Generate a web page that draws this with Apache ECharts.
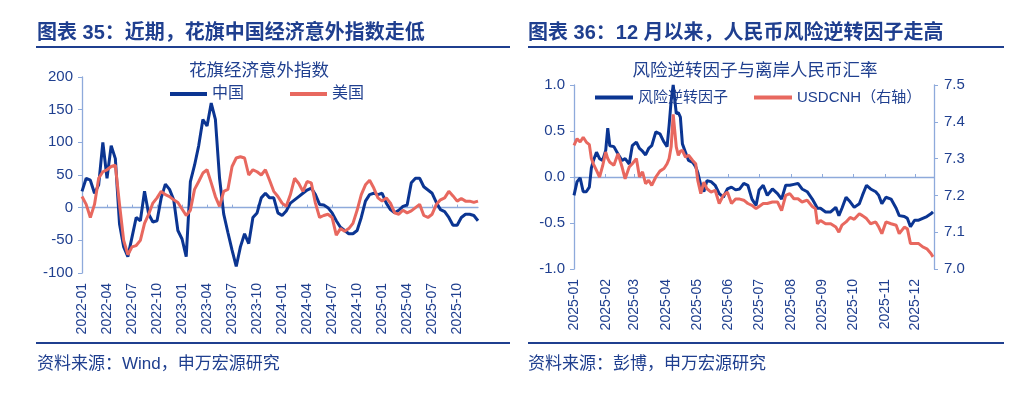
<!DOCTYPE html>
<html>
<head>
<meta charset="utf-8">
<script src="https://cdn.jsdelivr.net/npm/echarts@6/dist/echarts.min.js"></script>
<style>
html,body{margin:0;padding:0;background:#fff;}
#main{width:1024px;height:395px;}
</style>
</head>
<body>
<div id="main"></div>
<script>
// ---- Left chart: Citi Economic Surprise Index (semi-monthly readings) ----
const leftDates = [
'2022-01-01','2022-01-16','2022-02-01','2022-02-16','2022-03-01','2022-03-16','2022-04-01','2022-04-16','2022-05-01','2022-05-16','2022-06-01','2022-06-16',
'2022-07-01','2022-07-16','2022-08-01','2022-08-16','2022-09-01','2022-09-16','2022-10-01','2022-10-16','2022-11-01','2022-11-16','2022-12-01','2022-12-16',
'2023-01-01','2023-01-16','2023-02-01','2023-02-16','2023-03-01','2023-03-16','2023-04-01','2023-04-16','2023-05-01','2023-05-16','2023-06-01','2023-06-16',
'2023-07-01','2023-07-16','2023-08-01','2023-08-16','2023-09-01','2023-09-16','2023-10-01','2023-10-16','2023-11-01','2023-11-16','2023-12-01','2023-12-16',
'2024-01-01','2024-01-16','2024-02-01','2024-02-16','2024-03-01','2024-03-16','2024-04-01','2024-04-16','2024-05-01','2024-05-16','2024-06-01','2024-06-16',
'2024-07-01','2024-07-16','2024-08-01','2024-08-16','2024-09-01','2024-09-16','2024-10-01','2024-10-16','2024-11-01','2024-11-16','2024-12-01','2024-12-16',
'2025-01-01','2025-01-16','2025-02-01','2025-02-16','2025-03-01','2025-03-16','2025-04-01','2025-04-16','2025-05-01','2025-05-16','2025-06-01','2025-06-16',
'2025-07-01','2025-07-16','2025-08-01','2025-08-16','2025-09-01','2025-09-16','2025-10-01','2025-10-16','2025-11-01','2025-11-16','2025-12-01','2025-12-16'
];
const chinaValues = [
25,45,42,22,35,100,45,95,75,-25,
-60,-75,-45,-15,-20,25,-10,-22,-20,15,
36,28,12,-35,-48,-75,40,65,95,135,
125,160,135,45,-10,-38,-65,-90,-60,-40,
-55,-15,-8,15,22,15,15,-8,-12,-5,
7,12,17,22,27,30,20,5,4,0,
-8,-20,-30,-35,-40,-40,-35,-15,10,20,
22,20,22,7,-3,-8,-4,2,4,38,
45,45,32,27,22,8,-3,-6,-15,-27,
-27,-15,-10,-10,-12,-20
];
const usValues = [
17,5,-15,5,45,55,58,63,65,5,
-50,-72,-60,-58,-50,-24,-10,7,15,25,
20,17,12,8,-2,-12,-4,28,40,53,
58,38,17,2,25,28,63,76,78,76,
50,58,55,50,58,42,25,17,7,2,
20,45,37,25,40,38,7,-15,-12,-10,
-15,-42,-32,-36,-32,-24,-4,20,35,42,
30,15,10,15,7,-8,-10,-4,-8,-5,
0,5,-12,-15,-10,5,12,15,25,18,
10,14,10,10,8,10
];
const leftYTicks = {min: -100, max: 200, interval: 50};

// ---- Right chart: risk reversal factor & USDCNH (2025) ----
const rightDates = [
'2025-01-01','2025-01-04','2025-01-07','2025-01-10','2025-01-13','2025-01-16','2025-01-18','2025-01-20','2025-01-23','2025-01-26','2025-01-29',
'2025-02-01','2025-02-03','2025-02-05','2025-02-09','2025-02-13','2025-02-17','2025-02-20','2025-02-24','2025-02-27',
'2025-03-03','2025-03-06','2025-03-09','2025-03-12','2025-03-15','2025-03-18','2025-03-22','2025-03-26','2025-03-30',
'2025-04-02','2025-04-04','2025-04-06','2025-04-08','2025-04-11','2025-04-13','2025-04-15','2025-04-17','2025-04-20','2025-04-23','2025-04-27','2025-04-30',
'2025-05-02','2025-05-05','2025-05-08','2025-05-11','2025-05-15','2025-05-19','2025-05-23','2025-05-27','2025-05-31',
'2025-06-04','2025-06-08','2025-06-12','2025-06-16','2025-06-20','2025-06-24','2025-06-28',
'2025-07-01','2025-07-05','2025-07-09','2025-07-14','2025-07-19','2025-07-23','2025-07-27','2025-07-31',
'2025-08-04','2025-08-08','2025-08-12','2025-08-17','2025-08-22','2025-08-25','2025-08-27','2025-08-30',
'2025-09-04','2025-09-09','2025-09-14','2025-09-17','2025-09-20','2025-09-24','2025-09-28',
'2025-10-02','2025-10-07','2025-10-10','2025-10-14','2025-10-18','2025-10-23','2025-10-26','2025-10-29',
'2025-11-02','2025-11-07','2025-11-12','2025-11-15','2025-11-20','2025-11-23','2025-11-26','2025-11-30',
'2025-12-04','2025-12-08','2025-12-12','2025-12-16','2025-12-18'
];
const riskReversal = [
-0.20,-0.05,-0.01,-0.16,-0.16,-0.11,0.10,0.18,0.27,0.20,0.18,
0.29,0.53,0.34,0.33,0.25,0.18,0.20,0.14,0.34,
0.38,0.31,0.28,0.24,0.31,0.34,0.49,0.47,0.38,
0.33,0.56,0.83,1.00,0.69,0.70,0.65,0.36,0.27,0.18,0.16,0.11,
0.05,-0.09,-0.16,-0.04,-0.05,-0.09,-0.18,-0.22,-0.13,
-0.11,-0.14,-0.13,-0.07,-0.09,-0.24,-0.31,
-0.14,-0.09,-0.20,-0.13,-0.18,-0.24,-0.09,-0.09,
-0.08,-0.07,-0.13,-0.16,-0.24,-0.30,-0.34,-0.34,
-0.38,-0.38,-0.33,-0.42,-0.34,-0.22,-0.27,
-0.33,-0.29,-0.20,-0.09,-0.13,-0.16,-0.20,-0.29,
-0.22,-0.24,-0.34,-0.42,-0.43,-0.45,-0.54,-0.47,
-0.47,-0.45,-0.43,-0.40,-0.38
];
const usdcnh = [
7.336,7.354,7.345,7.358,7.345,7.338,7.300,7.285,7.268,7.250,7.280,
7.318,7.300,7.290,7.282,7.313,7.277,7.245,7.277,7.286,
7.300,7.250,7.264,7.232,7.241,7.227,7.250,7.266,7.273,
7.286,7.300,7.332,7.420,7.332,7.309,7.320,7.322,7.304,7.309,7.295,7.286,
7.241,7.205,7.236,7.218,7.209,7.214,7.178,7.200,7.209,
7.178,7.190,7.190,7.187,7.178,7.173,7.164,
7.170,7.178,7.178,7.182,7.182,7.159,7.200,7.205,
7.191,7.191,7.182,7.187,7.170,7.164,7.123,7.132,
7.123,7.123,7.114,7.100,7.119,7.128,7.140,
7.135,7.150,7.145,7.137,7.123,7.128,7.114,7.096,
7.128,7.123,7.119,7.096,7.114,7.109,7.069,7.069,
7.069,7.060,7.055,7.042,7.033
];
const rightRange = {min: '2025-01-01', max: '2025-12-19'};

// ---- styles ----
const FONT = "'Liberation Sans','Noto Sans CJK SC',sans-serif";
const NAVY = '#1f3f8f';
const BLUE = '#0b3592';
const RED = '#e8685f';
const AXIS = '#8eaadb';
const DAY = 86400000;

const chart = echarts.init(document.getElementById('main'), null, {renderer: 'canvas'});

const txt = (text, x, y, size, weight, align, color) => ({
  type: 'text', silent: true,
  style: {text, x, y, fontSize: size, fontWeight: weight || 'normal', fontFamily: FONT,
    fill: color || NAVY, textAlign: align || 'left', textVerticalAlign: 'middle'}
});
const bar = (x, y, w) => ({type: 'rect', silent: true, shape: {x, y, width: w, height: 2}, style: {fill: NAVY}});

const yAxisBase = {
  axisLine: {show: true, lineStyle: {color: AXIS, width: 1.3}},
  axisTick: {show: true, length: 4, lineStyle: {color: AXIS}},
  splitLine: {show: false},
  axisLabel: {color: NAVY, fontSize: 15, fontFamily: FONT, margin: 9}
};

chart.setOption({
  animation: false,
  backgroundColor: '#fff',
  textStyle: {fontFamily: FONT},
  graphic: [
    txt('图表 35：近期，花旗中国经济意外指数走低', 37, 33, 20, 'bold'),
    txt('图表 36：12 月以来，人民币风险逆转因子走高', 528, 33, 20, 'bold'),
    bar(36, 46, 474), bar(528, 46, 476),
    txt('花旗经济意外指数', 259, 71, 17.5, 'normal', 'center'),
    txt('风险逆转因子与离岸人民币汇率', 755, 71, 17.5, 'normal', 'center'),
    bar(36, 342, 474), bar(528, 342, 476),
    txt('资料来源：Wind，申万宏源研究', 37, 364, 17),
    txt('资料来源：彭博，申万宏源研究', 528, 364, 17)
  ],
  legend: [
    {data: ['中国', '美国'], left: 170, top: 86, padding: 0, icon: 'rect', itemWidth: 37, itemHeight: 4, itemGap: 46,
     textStyle: {color: NAVY, fontSize: 16, fontFamily: FONT}},
    {data: ['风险逆转因子', 'USDCNH（右轴）'], left: 595, top: 90, padding: 0, icon: 'rect', itemWidth: 38, itemHeight: 4, itemGap: 26,
     textStyle: {color: NAVY, fontSize: 15, fontFamily: FONT}}
  ],
  grid: [
    {left: 82, top: 77, width: 396, height: 196},
    {left: 574, top: 85, width: 360, height: 184}
  ],
  xAxis: [
    {type: 'category', gridIndex: 0, data: leftDates, boundaryGap: false,
     axisLine: {show: false, onZero: false}, axisTick: {show: false}, splitLine: {show: false},
     axisLabel: {interval: 5, rotate: 90, color: NAVY, fontSize: 14, fontFamily: FONT, margin: 10,
       formatter: v => v.slice(0, 7)}},
    {type: 'category', gridIndex: 0, data: leftDates, boundaryGap: false,
     axisLine: {show: true, onZero: true, lineStyle: {color: AXIS, width: 1.3}},
     axisTick: {show: true, interval: 5, length: 3, lineStyle: {color: AXIS}},
     axisLabel: {show: false}, splitLine: {show: false}},
    {type: 'time', gridIndex: 1, min: rightRange.min, max: rightRange.max,
     minInterval: 28 * DAY, maxInterval: 31 * DAY,
     axisLine: {show: false, onZero: false}, axisTick: {show: false}, splitLine: {show: false},
     axisLabel: {rotate: 90, color: NAVY, fontSize: 14, fontFamily: FONT, margin: 10,
       formatter: '{yyyy}-{MM}', hideOverlap: false}},
    {type: 'time', gridIndex: 1, min: rightRange.min, max: rightRange.max,
     minInterval: 28 * DAY, maxInterval: 31 * DAY,
     axisLine: {show: true, onZero: true, lineStyle: {color: AXIS, width: 1.3}},
     axisTick: {show: true, length: 3, lineStyle: {color: AXIS}},
     axisLabel: {show: false}, splitLine: {show: false}}
  ],
  yAxis: [
    Object.assign({}, yAxisBase, {type: 'value', gridIndex: 0, min: leftYTicks.min, max: leftYTicks.max, interval: leftYTicks.interval}),
    Object.assign({}, yAxisBase, {type: 'value', gridIndex: 1, min: -1, max: 1, interval: 0.5,
      axisLabel: Object.assign({}, yAxisBase.axisLabel, {formatter: v => v.toFixed(1)})}),
    Object.assign({}, yAxisBase, {type: 'value', gridIndex: 1, position: 'right', min: 7.0, max: 7.5, interval: 0.1,
      axisLabel: Object.assign({}, yAxisBase.axisLabel, {margin: 10, formatter: v => v.toFixed(1)})})
  ],
  series: [
    {name: '中国', type: 'line', xAxisIndex: 0, yAxisIndex: 0, data: chinaValues, showSymbol: false, symbol: 'none',
     color: BLUE, lineStyle: {width: 3, color: BLUE}},
    {name: '美国', type: 'line', xAxisIndex: 0, yAxisIndex: 0, data: usValues, showSymbol: false, symbol: 'none',
     color: RED, lineStyle: {width: 3, color: RED}},
    {name: '风险逆转因子', type: 'line', xAxisIndex: 2, yAxisIndex: 1,
     data: rightDates.map((d, i) => [d, riskReversal[i]]), showSymbol: false, symbol: 'none',
     color: BLUE, lineStyle: {width: 3, color: BLUE}},
    {name: 'USDCNH（右轴）', type: 'line', xAxisIndex: 2, yAxisIndex: 2,
     data: rightDates.map((d, i) => [d, usdcnh[i]]), showSymbol: false, symbol: 'none',
     color: RED, lineStyle: {width: 3, color: RED}}
  ]
});
</script>
</body>
</html>
